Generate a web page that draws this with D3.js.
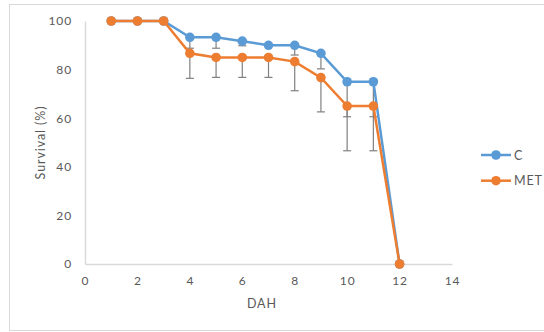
<!DOCTYPE html>
<html>
<head>
<meta charset="utf-8">
<script src="https://cdn.jsdelivr.net/npm/d3@7"></script>
<style>
  body { margin: 0; background: #fff; }
  text { font-family: Lato, "Open Sans", sans-serif; fill: #595959; letter-spacing: 0.9px; }
</style>
</head>
<body>
<div id="figure"></div>
<script>
// data
var days = [1, 2, 3, 4, 5, 6, 7, 8, 9, 10, 11, 12];
var cValues = [100, 100, 100, 93.3, 93.3, 91.7, 90, 90, 86.7, 75, 75, 0];
var cErr = [0, 0, 0, 4.5, 4.5, 1.9, 0, 4, 6.4, 14.4, 14.4, 0];
var metValues = [100, 100, 100, 86.7, 85, 85, 85, 83.3, 76.7, 65, 65, 0];
var metErr = [0, 0, 0, 10.3, 8.2, 8.2, 8.2, 12, 14.1, 18.4, 18.4, 0];
var xTicks = [0, 2, 4, 6, 8, 10, 12, 14];
var yTicks = [0, 20, 40, 60, 80, 100];

var series = [
  {name: "C", values: cValues, err: cErr, color: "#5b9bd5"},
  {name: "MET", values: metValues, err: metErr, color: "#ed7d31"}
];

const W = 544, H = 332;
const margin = {top: 21, right: 92, bottom: 68, left: 85},
  width = W - margin.left - margin.right,
  height = H - margin.top - margin.bottom;

const root = d3.select("#figure").append("svg")
  .attr("width", W).attr("height", H);

// chart border
root.append("rect")
  .attr("x", 9.5).attr("y", 4.5)
  .attr("width", W + 10).attr("height", 326)
  .attr("fill", "none").attr("stroke", "#d9d9d9");

const svg = root.append("g")
  .attr("transform", `translate(${margin.left},${margin.top})`);

const x = d3.scaleLinear().domain([0, 14]).range([0, width]);
const y = d3.scaleLinear().domain([0, 100]).range([height, 0]);

// axes
const xAxis = svg.append("g")
  .attr("transform", `translate(0,${height})`)
  .call(d3.axisBottom(x).tickValues(xTicks).tickSize(0).tickPadding(12));
const yAxis = svg.append("g")
  .call(d3.axisLeft(y).tickValues(yTicks).tickSize(0).tickPadding(13));
[xAxis, yAxis].forEach(a => {
  a.select(".domain").attr("stroke", "#d9d9d9").attr("stroke-width", 1.5);
  a.selectAll("text").attr("font-size", 12).attr("font-family", "Lato, 'Open Sans', sans-serif").attr("fill", "#595959");
});

// axis titles
svg.append("text")
  .attr("x", x(6.75)).attr("y", height + 44)
  .attr("text-anchor", "middle").attr("font-size", 12.5)
  .text("DAH");
svg.append("text")
  .attr("transform", `translate(${-40},${height / 2}) rotate(-90)`)
  .attr("text-anchor", "middle").attr("font-size", 12.5)
  .text("Survival (%)");

// error bars (minus only)
series.forEach(s => {
  const eb = svg.append("g").attr("stroke", "#808080").attr("stroke-width", 1.2);
  days.forEach((d, i) => {
    if (!s.err[i]) return;
    const x0 = x(d), y0 = y(s.values[i]), y1 = y(s.values[i] - s.err[i]);
    eb.append("line").attr("x1", x0).attr("x2", x0).attr("y1", y0).attr("y2", y1);
    eb.append("line").attr("x1", x0 - 4).attr("x2", x0 + 4).attr("y1", y1).attr("y2", y1);
  });
});

// lines and markers
const line = d3.line().x(d => x(d[0])).y(d => y(d[1]));
series.forEach(s => {
  const pts = days.map((d, i) => [d, s.values[i]]);
  svg.append("path").datum(pts)
    .attr("d", line)
    .attr("fill", "none")
    .attr("stroke", s.color)
    .attr("stroke-width", 2.5);
  svg.selectAll(null).data(pts).join("circle")
    .attr("cx", d => x(d[0])).attr("cy", d => y(d[1]))
    .attr("r", 4.8).attr("fill", s.color);
});

// legend
const legend = root.append("g").attr("transform", "translate(481,155)");
series.forEach((s, i) => {
  const g = legend.append("g").attr("transform", `translate(0,${i * 25.7})`);
  g.append("line").attr("x1", 0).attr("x2", 30).attr("stroke", s.color).attr("stroke-width", 2.5);
  g.append("circle").attr("cx", 15).attr("r", 4.8).attr("fill", s.color);
  g.append("text").attr("x", 33).attr("y", 4.5).attr("font-size", 12.5).text(s.name);
});
</script>
</body>
</html>
